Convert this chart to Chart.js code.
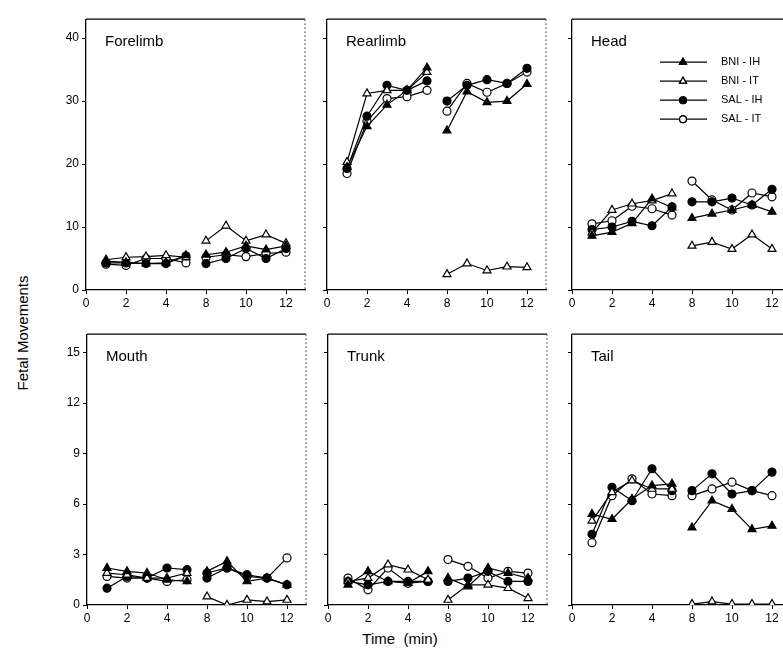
<!DOCTYPE html>
<html>
<head>
<meta charset="utf-8">
<script src="https://cdn.jsdelivr.net/npm/chart.js@4"></script>
<style>
  html, body { margin: 0; padding: 0; background: #fff; }
  body { width: 783px; height: 665px; position: relative; overflow: hidden; font-family: "Liberation Sans", Arial, sans-serif; }
  canvas { position: absolute; }
  .axis-title { position: absolute; color: #000; font-size: 15px; white-space: nowrap; }
  #yTitle { left: 22px; top: 333px; transform: translate(-50%, -50%) rotate(-90deg); }
  #xTitle { left: 400px; top: 638px; transform: translate(-50%, -50%); }
</style>
</head>
<body>
<div id="yTitle" class="axis-title">Fetal Movements</div>
<div id="xTitle" class="axis-title">Time&nbsp; (min)</div>
<script>
// -----------------------------
// Data (minutes 1-5 before, 8-12 after the break)
// -----------------------------
const minutes = [1, 2, 3, 4, 5, 8, 9, 10, 11, 12];
const timeTicks = [0, 2, 4, 8, 10, 12];
const seriesNames = ['BNI - IH', 'BNI - IT', 'SAL - IH', 'SAL - IT'];

const forelimbBniIh = [4.6, 4.4, 4.2, 4.3, 5.5, 5.6, 6.0, 7.0, 6.4, 7.0];
const forelimbBniIt = [4.8, 5.2, 5.3, 5.5, 5.2, 7.8, 10.2, 7.8, 8.8, 7.4];
const forelimbSalIh = [4.3, 4.3, 4.2, 4.2, 5.4, 4.2, 5.0, 6.6, 5.0, 6.6];
const forelimbSalIt = [4.1, 3.9, 5.0, 5.0, 4.3, 5.2, 5.6, 5.3, 5.8, 6.0];

const rearlimbBniIh = [19.5, 26.0, 29.4, 31.7, 35.3, 25.3, 31.5, 29.8, 30.0, 32.7];
const rearlimbBniIt = [20.3, 31.2, 31.7, 31.7, 34.6, 2.5, 4.2, 3.1, 3.7, 3.6];
const rearlimbSalIh = [19.3, 27.6, 32.5, 31.7, 33.2, 30.0, 32.5, 33.4, 32.8, 35.2];
const rearlimbSalIt = [18.5, 26.8, 30.4, 30.7, 31.7, 28.4, 32.8, 31.4, 32.8, 34.6];

const headBniIh = [8.6, 9.2, 10.6, 14.5, 13.1, 11.4, 12.1, 12.7, 13.5, 12.4];
const headBniIt = [9.1, 12.7, 13.7, 14.2, 15.3, 7.0, 7.6, 6.5, 8.8, 6.5];
const headSalIh = [9.6, 10.0, 10.9, 10.2, 13.2, 14.0, 14.0, 14.6, 13.5, 16.0];
const headSalIt = [10.5, 11.0, 13.3, 12.9, 11.9, 17.3, 14.3, 12.7, 15.4, 14.8];

const mouthBniIh = [2.2, 2.0, 1.9, 1.5, 1.4, 2.0, 2.6, 1.4, 1.6, 1.2];
const mouthBniIt = [1.9, 1.8, 1.6, 1.6, 1.9, 0.5, 0.0, 0.3, 0.2, 0.3];
const mouthSalIh = [1.0, 1.7, 1.6, 2.2, 2.1, 1.6, 2.2, 1.8, 1.6, 1.2];
const mouthSalIt = [1.7, 1.6, 1.6, 1.4, 1.5, 1.9, 2.2, 1.7, 1.6, 2.8];

const trunkBniIh = [1.2, 2.0, 1.4, 1.3, 2.0, 1.6, 1.1, 2.2, 1.9, 1.6];
const trunkBniIt = [1.4, 1.6, 2.4, 2.1, 1.5, 0.3, 1.2, 1.2, 1.0, 0.4];
const trunkSalIh = [1.4, 1.2, 1.4, 1.4, 1.4, 1.4, 1.6, 2.0, 1.4, 1.4];
const trunkSalIt = [1.6, 0.9, 2.2, 1.3, 1.4, 2.7, 2.3, 1.6, 2.0, 1.9];

const tailBniIh = [5.4, 5.1, 6.3, 7.1, 7.2, 4.6, 6.2, 5.7, 4.5, 4.7];
const tailBniIt = [5.0, 6.7, 7.4, 6.9, 6.9, 0.05, 0.2, 0.05, 0.05, 0.05];
const tailSalIh = [4.2, 7.0, 6.2, 8.1, 6.8, 6.8, 7.8, 6.6, 6.8, 7.9];
const tailSalIt = [3.7, 6.5, 7.5, 6.6, 6.5, 6.5, 6.9, 7.3, 6.8, 6.5];

// -----------------------------
// Panel layout (chart area positions on the page)
// -----------------------------
const PANEL_W = 219;
const PANEL_H = 275;
const AXIS_W = 40;
const AXIS_H = 26;
const PAD = 6;

const panels = [
  { title: 'Forelimb', left: 86,  top: 15,  yMax: 43,   yStep: 10, yLabels: true,  legend: false,
    series: [forelimbBniIh, forelimbBniIt, forelimbSalIh, forelimbSalIt] },
  { title: 'Rearlimb', left: 327, top: 15,  yMax: 43,   yStep: 10, yLabels: false, legend: false,
    series: [rearlimbBniIh, rearlimbBniIt, rearlimbSalIh, rearlimbSalIt] },
  { title: 'Head',     left: 572, top: 15,  yMax: 43,   yStep: 10, yLabels: false, legend: true,
    series: [headBniIh, headBniIt, headSalIh, headSalIt] },
  { title: 'Mouth',    left: 87,  top: 330, yMax: 16.1, yStep: 3,  yLabels: true,  legend: false,
    series: [mouthBniIh, mouthBniIt, mouthSalIh, mouthSalIt] },
  { title: 'Trunk',    left: 328, top: 330, yMax: 16.1, yStep: 3,  yLabels: false, legend: false,
    series: [trunkBniIh, trunkBniIt, trunkSalIh, trunkSalIt] },
  { title: 'Tail',     left: 572, top: 330, yMax: 16.1, yStep: 3,  yLabels: false, legend: false,
    series: [tailBniIh, tailBniIt, tailSalIh, tailSalIt] }
];

// marker look per series: filled / open triangle, filled / open circle
const markerStyles = [
  { pointStyle: 'triangle', fill: '#000', radius: 4.6 },
  { pointStyle: 'triangle', fill: '#fff', radius: 4.6 },
  { pointStyle: 'circle',   fill: '#000', radius: 4 },
  { pointStyle: 'circle',   fill: '#fff', radius: 4 }
];

const FONT = '"Liberation Sans", Arial, sans-serif';

// the 6-7 min break is collapsed: minute 8 sits right after minute 5 + 1 step
function toAxis(t) {
  return t <= 5 ? t : t - 2;
}

function buildPoints(values) {
  const pts = [];
  minutes.forEach((m, i) => {
    if (m === 8) pts.push({ x: 5.5, y: null });
    pts.push({ x: toAxis(m), y: values[i] });
  });
  return pts;
}

// -----------------------------
// Plugins: frame, panel title, in-panel legend
// -----------------------------
const framePlugin = {
  id: 'frame',
  afterDraw(chart, args, opts) {
    const { ctx, chartArea: a } = chart;
    ctx.save();
    ctx.strokeStyle = '#000';
    ctx.lineWidth = 1.2;
    ctx.beginPath();
    ctx.moveTo(a.left, a.top);
    ctx.lineTo(a.right, a.top);
    ctx.stroke();
    ctx.lineWidth = 1;
    ctx.strokeStyle = '#555';
    ctx.setLineDash([2, 2]);
    ctx.beginPath();
    ctx.moveTo(a.right, a.top);
    ctx.lineTo(a.right, a.bottom);
    ctx.stroke();
    ctx.setLineDash([]);

    ctx.fillStyle = '#000';
    ctx.font = '15px ' + FONT;
    ctx.textBaseline = 'middle';
    ctx.textAlign = 'left';
    ctx.fillText(opts.title, a.left + 19, a.top + 23);

    if (opts.legend) {
      ctx.font = '11px ' + FONT;
      const rows = [43, 62, 81, 100];
      seriesNames.forEach((name, i) => {
        const y = a.top + rows[i];
        const st = markerStyles[i];
        ctx.strokeStyle = '#000';
        ctx.lineWidth = 1.2;
        ctx.beginPath();
        ctx.moveTo(a.left + 88, y);
        ctx.lineTo(a.left + 135, y);
        ctx.stroke();
        Chart.helpers.drawPoint(ctx, {
          pointStyle: st.pointStyle,
          radius: st.radius - 0.6,
          borderWidth: 1.2
        }, a.left + 111, y);
        ctx.fillStyle = st.fill;
        ctx.fill();
        ctx.stroke();
        ctx.fillStyle = '#000';
        ctx.fillText(name, a.left + 149, y);
      });
    }
    ctx.restore();
  }
};

// -----------------------------
// Build each panel
// -----------------------------
panels.forEach(p => {
  const canvas = document.createElement('canvas');
  const w = AXIS_W + PANEL_W + PAD;
  const h = PAD + PANEL_H + AXIS_H;
  canvas.width = w;
  canvas.height = h;
  canvas.style.left = (p.left - AXIS_W) + 'px';
  canvas.style.top = (p.top - PAD) + 'px';
  canvas.style.width = w + 'px';
  canvas.style.height = h + 'px';
  document.body.appendChild(canvas);

  const datasets = p.series.map((values, i) => ({
    label: seriesNames[i],
    data: buildPoints(values),
    borderColor: '#000',
    borderWidth: 1.2,
    backgroundColor: markerStyles[i].fill,
    pointStyle: markerStyles[i].pointStyle,
    pointRadius: markerStyles[i].radius,
    pointBorderWidth: 1.2,
    pointBorderColor: '#000',
    pointBackgroundColor: markerStyles[i].fill,
    tension: 0,
    spanGaps: false,
    fill: false
  }));

  new Chart(canvas, {
    type: 'line',
    data: { datasets },
    options: {
      responsive: false,
      animation: false,
      devicePixelRatio: 1,
      layout: { padding: { top: PAD, right: PAD, left: 0, bottom: 0 } },
      plugins: {
        legend: { display: false },
        tooltip: { enabled: false },
        frame: { title: p.title, legend: p.legend }
      },
      scales: {
        x: {
          type: 'linear',
          min: 0,
          max: PANEL_W / 20,
          afterFit(scale) { scale.height = AXIS_H; },
          afterBuildTicks(scale) {
            scale.ticks = timeTicks.map(t => ({ value: toAxis(t) }));
          },
          ticks: {
            autoSkip: false,
            maxRotation: 0,
            padding: 2,
            color: '#000',
            font: { family: FONT, size: 12 },
            callback: v => String(timeTicks.find(t => toAxis(t) === v))
          },
          grid: { drawOnChartArea: false, drawTicks: true, tickLength: 4, color: '#000' },
          border: { display: true, color: '#000', width: 1.3 }
        },
        y: {
          min: 0,
          max: p.yMax,
          afterFit(scale) { scale.width = AXIS_W; },
          ticks: {
            stepSize: p.yStep,
            includeBounds: false,
            padding: 3,
            color: '#000',
            font: { family: FONT, size: 12 },
            callback: v => (p.yLabels ? String(v) : '')
          },
          grid: { drawOnChartArea: false, drawTicks: true, tickLength: 4, color: '#000' },
          border: { display: true, color: '#000', width: 1.3 }
        }
      }
    },
    plugins: [framePlugin]
  });
});
</script>
</body>
</html>
